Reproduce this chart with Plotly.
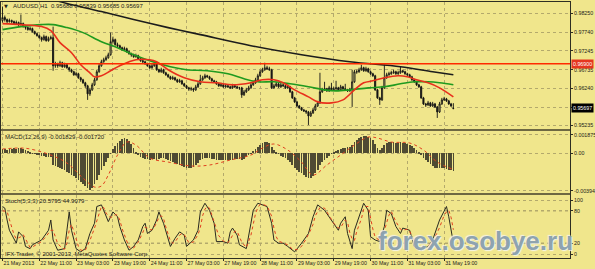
import plotly.graph_objects as go

# ---------------- DATA ----------------
x_labels = ["21 May 2013", "22 May 11:00", "23 May 03:00", "23 May 19:00", "24 May 11:00",
            "27 May 03:00", "27 May 19:00", "28 May 11:00", "29 May 03:00", "29 May 19:00",
            "30 May 11:00", "31 May 03:00", "31 May 19:00"]
x_label_bars = [0, 16, 32, 48, 64, 80, 96, 112, 128, 144, 160, 176, 192]

opens = [0.98060, 0.98141, 0.98087, 0.98033, 0.98060, 0.98033, 0.97979, 0.98006, 0.97952, 0.97979,
 0.97898, 0.97871, 0.97817, 0.97844, 0.97763, 0.97709, 0.97655, 0.97601, 0.97547, 0.97628,
 0.97520, 0.97574, 0.97601, 0.96845, 0.96899, 0.96845, 0.96926, 0.96818, 0.96872, 0.96791,
 0.96737, 0.96683, 0.96602, 0.96629, 0.96521, 0.96467, 0.96386, 0.96305, 0.96089, 0.96197,
 0.96332, 0.96467, 0.96683, 0.96845, 0.96953, 0.97007, 0.97061, 0.97142, 0.97493, 0.97547,
 0.97412, 0.97385, 0.97331, 0.97277, 0.97304, 0.97223, 0.97169, 0.97142, 0.97088, 0.97115,
 0.97034, 0.96980, 0.96953, 0.96899, 0.96845, 0.96791, 0.96845, 0.96899, 0.96737, 0.96683,
 0.96737, 0.96656, 0.96602, 0.96548, 0.96494, 0.96521, 0.96467, 0.96413, 0.96440, 0.96359,
 0.96305, 0.96251, 0.96224, 0.96224, 0.96197, 0.96278, 0.96359, 0.96467, 0.96521, 0.96575,
 0.96548, 0.96494, 0.96440, 0.96413, 0.96359, 0.96305, 0.96332, 0.96278, 0.96305, 0.96278,
 0.96251, 0.96305, 0.96278, 0.96251, 0.96251, 0.96062, 0.96143, 0.96197, 0.96251, 0.96332,
 0.96386, 0.96467, 0.96575, 0.96683, 0.96737, 0.96791, 0.96764, 0.96737, 0.96251, 0.96305,
 0.96359, 0.96278, 0.96332, 0.96305, 0.96251, 0.96278, 0.96143, 0.95981, 0.95873, 0.95765,
 0.95711, 0.95657, 0.95630, 0.95603, 0.95495, 0.95576, 0.95657, 0.95765, 0.95846, 0.96143,
 0.96197, 0.96224, 0.96170, 0.96251, 0.96197, 0.96224, 0.96251, 0.96197, 0.96278, 0.96224,
 0.96197, 0.96170, 0.96197, 0.96413, 0.96683, 0.96683, 0.96737, 0.96791, 0.96710, 0.96764,
 0.96683, 0.96629, 0.96575, 0.96197, 0.95981, 0.95927, 0.96251, 0.96521, 0.96602, 0.96629,
 0.96656, 0.96683, 0.96629, 0.96656, 0.96710, 0.96683, 0.96629, 0.96602, 0.96548, 0.96467,
 0.96413, 0.96332, 0.96278, 0.95981, 0.95819, 0.95792, 0.95846, 0.95765, 0.95819, 0.95738,
 0.95603, 0.95819, 0.95927, 0.95954, 0.95900, 0.95819, 0.95688]

highs = [0.98438, 0.98195, 0.98114, 0.98114, 0.98087, 0.98060, 0.98060, 0.98033, 0.98223, 0.98006,
 0.97925, 0.97898, 0.97898, 0.97871, 0.97790, 0.97736, 0.97682, 0.97628, 0.97682, 0.97655,
 0.97628, 0.97655, 0.97898, 0.96953, 0.96926, 0.96980, 0.96953, 0.96926, 0.96899, 0.96818,
 0.96764, 0.96710, 0.96683, 0.96656, 0.96548, 0.96494, 0.96413, 0.96332, 0.96251, 0.96386,
 0.96521, 0.96737, 0.96899, 0.97007, 0.97061, 0.97115, 0.97196, 0.97736, 0.97628, 0.97574,
 0.97466, 0.97412, 0.97358, 0.97358, 0.97331, 0.97250, 0.97196, 0.97169, 0.97169, 0.97142,
 0.97061, 0.97007, 0.96980, 0.96926, 0.96872, 0.96899, 0.96953, 0.96926, 0.96764, 0.96791,
 0.96764, 0.96683, 0.96629, 0.96575, 0.96575, 0.96548, 0.96494, 0.96494, 0.96467, 0.96386,
 0.96332, 0.96278, 0.96278, 0.96251, 0.96332, 0.96413, 0.96602, 0.96575, 0.96629, 0.96602,
 0.96575, 0.96521, 0.96467, 0.96440, 0.96386, 0.96386, 0.96359, 0.96359, 0.96332, 0.96305,
 0.96359, 0.96332, 0.96305, 0.96278, 0.96278, 0.96197, 0.96251, 0.96305, 0.96386, 0.96440,
 0.96521, 0.96629, 0.96737, 0.96791, 0.96926, 0.96845, 0.96818, 0.96764, 0.96359, 0.96413,
 0.96386, 0.96386, 0.96359, 0.96332, 0.96332, 0.96305, 0.96170, 0.96008, 0.95900, 0.95792,
 0.95738, 0.95684, 0.95657, 0.95630, 0.95630, 0.95711, 0.95819, 0.95900, 0.96656, 0.96251,
 0.96413, 0.96251, 0.96305, 0.96386, 0.96278, 0.96440, 0.96278, 0.96332, 0.96305, 0.96359,
 0.96224, 0.96251, 0.96737, 0.96737, 0.96737, 0.96791, 0.96872, 0.96818, 0.96818, 0.96791,
 0.96710, 0.96656, 0.96602, 0.96224, 0.96008, 0.96305, 0.96872, 0.96656, 0.96683, 0.96710,
 0.96737, 0.96710, 0.96710, 0.96818, 0.96737, 0.96710, 0.96656, 0.96629, 0.96575, 0.96494,
 0.96440, 0.96359, 0.96305, 0.96008, 0.95846, 0.95900, 0.95873, 0.95873, 0.95846, 0.95765,
 0.95873, 0.95981, 0.96008, 0.95981, 0.95927, 0.95846, 0.95839]

lows = [0.98006, 0.98033, 0.97979, 0.98006, 0.97979, 0.97952, 0.97952, 0.97898, 0.97925, 0.97871,
 0.97817, 0.97790, 0.97790, 0.97736, 0.97682, 0.97628, 0.97574, 0.97493, 0.97520, 0.97493,
 0.97493, 0.97547, 0.96710, 0.96791, 0.96791, 0.96818, 0.96791, 0.96791, 0.96764, 0.96683,
 0.96656, 0.96575, 0.96575, 0.96494, 0.96413, 0.96359, 0.96251, 0.95927, 0.96035, 0.96170,
 0.96305, 0.96440, 0.96656, 0.96818, 0.96926, 0.96980, 0.97034, 0.97115, 0.97439, 0.97385,
 0.97331, 0.97304, 0.97250, 0.97250, 0.97196, 0.97142, 0.97088, 0.97061, 0.97061, 0.97007,
 0.96953, 0.96899, 0.96872, 0.96818, 0.96764, 0.96764, 0.96818, 0.96710, 0.96656, 0.96656,
 0.96629, 0.96575, 0.96521, 0.96467, 0.96467, 0.96440, 0.96386, 0.96386, 0.96332, 0.96278,
 0.96224, 0.96170, 0.96170, 0.96143, 0.96170, 0.96251, 0.96332, 0.96440, 0.96494, 0.96521,
 0.96467, 0.96413, 0.96386, 0.96332, 0.96278, 0.96278, 0.96251, 0.96251, 0.96251, 0.96224,
 0.96224, 0.96251, 0.96224, 0.96197, 0.95981, 0.96035, 0.96116, 0.96170, 0.96224, 0.96305,
 0.96359, 0.96440, 0.96548, 0.96656, 0.96710, 0.96737, 0.96710, 0.96224, 0.96224, 0.96278,
 0.96251, 0.96251, 0.96278, 0.96224, 0.96224, 0.96116, 0.95954, 0.95846, 0.95738, 0.95684,
 0.95630, 0.95603, 0.95549, 0.95252, 0.95468, 0.95549, 0.95630, 0.95738, 0.95819, 0.96116,
 0.96170, 0.96143, 0.96143, 0.96170, 0.96170, 0.96197, 0.96170, 0.96170, 0.96197, 0.96170,
 0.96143, 0.96143, 0.95738, 0.96386, 0.96629, 0.96656, 0.96710, 0.96683, 0.96683, 0.96656,
 0.96602, 0.96548, 0.96170, 0.95954, 0.95792, 0.95900, 0.96224, 0.96494, 0.96575, 0.96602,
 0.96629, 0.96602, 0.96602, 0.96629, 0.96656, 0.96602, 0.96575, 0.96521, 0.96440, 0.96386,
 0.96305, 0.96251, 0.95954, 0.95792, 0.95738, 0.95765, 0.95738, 0.95738, 0.95711, 0.95441,
 0.95576, 0.95792, 0.95900, 0.95873, 0.95792, 0.95738, 0.95685]

closes = [0.98141, 0.98087, 0.98033, 0.98060, 0.98033, 0.97979, 0.98006, 0.97952, 0.97979, 0.97898,
 0.97871, 0.97817, 0.97844, 0.97763, 0.97709, 0.97655, 0.97601, 0.97547, 0.97628, 0.97520,
 0.97574, 0.97601, 0.96845, 0.96899, 0.96845, 0.96926, 0.96818, 0.96872, 0.96791, 0.96737,
 0.96683, 0.96602, 0.96629, 0.96521, 0.96467, 0.96386, 0.96305, 0.96089, 0.96197, 0.96332,
 0.96467, 0.96683, 0.96845, 0.96953, 0.97007, 0.97061, 0.97142, 0.97493, 0.97547, 0.97412,
 0.97385, 0.97331, 0.97277, 0.97304, 0.97223, 0.97169, 0.97142, 0.97088, 0.97115, 0.97034,
 0.96980, 0.96953, 0.96899, 0.96845, 0.96791, 0.96845, 0.96899, 0.96737, 0.96683, 0.96737,
 0.96656, 0.96602, 0.96548, 0.96494, 0.96521, 0.96467, 0.96413, 0.96440, 0.96359, 0.96305,
 0.96251, 0.96224, 0.96224, 0.96197, 0.96278, 0.96359, 0.96467, 0.96521, 0.96575, 0.96548,
 0.96494, 0.96440, 0.96413, 0.96359, 0.96305, 0.96332, 0.96278, 0.96305, 0.96278, 0.96251,
 0.96305, 0.96278, 0.96251, 0.96251, 0.96062, 0.96143, 0.96197, 0.96251, 0.96332, 0.96386,
 0.96467, 0.96575, 0.96683, 0.96737, 0.96791, 0.96764, 0.96737, 0.96251, 0.96305, 0.96359,
 0.96278, 0.96332, 0.96305, 0.96251, 0.96278, 0.96143, 0.95981, 0.95873, 0.95765, 0.95711,
 0.95657, 0.95630, 0.95603, 0.95495, 0.95576, 0.95657, 0.95765, 0.95846, 0.96143, 0.96197,
 0.96224, 0.96170, 0.96251, 0.96197, 0.96224, 0.96251, 0.96197, 0.96278, 0.96224, 0.96197,
 0.96170, 0.96197, 0.96413, 0.96683, 0.96683, 0.96737, 0.96791, 0.96710, 0.96764, 0.96683,
 0.96629, 0.96575, 0.96197, 0.95981, 0.95927, 0.96251, 0.96521, 0.96602, 0.96629, 0.96656,
 0.96683, 0.96629, 0.96656, 0.96710, 0.96683, 0.96629, 0.96602, 0.96548, 0.96467, 0.96413,
 0.96332, 0.96278, 0.95981, 0.95819, 0.95792, 0.95846, 0.95765, 0.95819, 0.95738, 0.95603,
 0.95819, 0.95927, 0.95954, 0.95900, 0.95819, 0.95765, 0.95697]

# moving averages (read at sample bars)
ma_red_x = [0, 8, 17, 21, 25, 30, 34, 38, 40, 43, 47, 51, 58, 64, 67, 72, 79, 86, 93, 100, 108, 113,
            118, 122, 127, 133, 137, 143, 148, 153, 157, 161, 166, 172, 176, 180, 185, 190, 196]
ma_red = [0.97979, 0.97952, 0.97898, 0.97790, 0.97466, 0.97196, 0.96872, 0.96656, 0.96548, 0.96575,
          0.96710, 0.96845, 0.97007, 0.97007, 0.96953, 0.96737, 0.96521, 0.96413, 0.96386, 0.96332,
          0.96386, 0.96467, 0.96467, 0.96386, 0.96197, 0.96008, 0.95873, 0.95846, 0.95927, 0.96197,
          0.96386, 0.96440, 0.96521, 0.96575, 0.96548, 0.96467, 0.96386, 0.96251, 0.96008]
ma_green_x = [0, 8, 17, 22, 28, 35, 43, 50, 57, 64, 73, 80, 89, 98, 105, 111, 118, 125, 133, 140,
              145, 151, 159, 166, 173, 179, 185, 190, 196]
ma_green = [0.97817, 0.97898, 0.97952, 0.97952, 0.97871, 0.97736, 0.97493, 0.97331, 0.97142, 0.96980,
            0.96818, 0.96737, 0.96710, 0.96629, 0.96494, 0.96413, 0.96413, 0.96359, 0.96278, 0.96197,
            0.96170, 0.96197, 0.96251, 0.96278, 0.96359, 0.96413, 0.96413, 0.96386, 0.96332]
ma_black_x = [0, 12, 23, 28, 43, 57, 72, 86, 108, 130, 151, 173, 187, 196]
ma_black = [0.99032, 0.98789, 0.98600, 0.98519, 0.98303, 0.98087, 0.97871, 0.97682, 0.97385, 0.97142,
            0.96953, 0.96818, 0.96683, 0.96602]

hline_price = 0.96900
last_price = 0.95697

macd_hist = [0.00042, 0.00042, 0.00031, 0.00042, 0.00042, 0.00052, 0.00042, 0.00052, 0.00052, 0.00042,
 0.00031, 0.00021, 0.00010, -0.00005, -0.00010, -0.00021, -0.00021, -0.00031, -0.00031, -0.00042,
 -0.00042, -0.00042, -0.00125, -0.00135, -0.00146, -0.00156, -0.00166, -0.00177, -0.00198, -0.00208,
 -0.00229, -0.00239, -0.00260, -0.00281, -0.00302, -0.00322, -0.00343, -0.00364, -0.00385, -0.00364,
 -0.00322, -0.00281, -0.00229, -0.00177, -0.00135, -0.00094, -0.00052, -0.00002, 0.00042, 0.00073,
 0.00104, 0.00125, 0.00146, 0.00156, 0.00146, 0.00125, 0.00094, 0.00052, 0.00010, -0.00021,
 -0.00042, -0.00052, -0.00062, -0.00062, -0.00073, -0.00062, -0.00062, -0.00073, -0.00062, -0.00052,
 -0.00052, -0.00062, -0.00073, -0.00083, -0.00094, -0.00104, -0.00114, -0.00125, -0.00135, -0.00146,
 -0.00156, -0.00156, -0.00156, -0.00146, -0.00125, -0.00104, -0.00073, -0.00062, -0.00052, -0.00052,
 -0.00052, -0.00062, -0.00062, -0.00073, -0.00073, -0.00073, -0.00073, -0.00073, -0.00073, -0.00073,
 -0.00073, -0.00062, -0.00062, -0.00062, -0.00073, -0.00062, -0.00042, -0.00021, -0.00002, 0.00021,
 0.00042, 0.00062, 0.00083, 0.00104, 0.00114, 0.00114, 0.00104, 0.00062, 0.00031, 0.00010,
 -0.00010, -0.00031, -0.00042, -0.00052, -0.00073, -0.00094, -0.00125, -0.00156, -0.00177, -0.00198,
 -0.00208, -0.00229, -0.00250, -0.00260, -0.00260, -0.00239, -0.00208, -0.00177, -0.00125, -0.00094,
 -0.00073, -0.00052, -0.00031, -0.00010, 0.00002, 0.00021, 0.00031, 0.00042, 0.00052, 0.00052,
 0.00062, 0.00062, 0.00083, 0.00114, 0.00135, 0.00156, 0.00166, 0.00177, 0.00177, 0.00166,
 0.00156, 0.00135, 0.00094, 0.00052, 0.00031, 0.00052, 0.00083, 0.00104, 0.00114, 0.00114,
 0.00114, 0.00104, 0.00104, 0.00114, 0.00104, 0.00104, 0.00094, 0.00083, 0.00073, 0.00052,
 0.00031, 0.00010, -0.00021, -0.00052, -0.00073, -0.00094, -0.00114, -0.00135, -0.00156, -0.00156,
 -0.00156, -0.00156, -0.00156, -0.00166, -0.00177, -0.00177, -0.00183]

macd_sig_x = [0, 8, 12, 21, 28, 35, 40, 43, 46, 50, 54, 58, 64, 72, 82, 90, 99, 108, 113, 118, 124,
              130, 135, 141, 147, 153, 159, 163, 169, 177, 183, 189, 196]
macd_sig = [0.00042, 0.00052, 0.00042, -0.00021, -0.00104, -0.00260, -0.00354, -0.00343, -0.00229,
            -0.00021, 0.00114, 0.00083, -0.00052, -0.00094, -0.00135, -0.00125, -0.00073, -0.00021,
            0.00052, 0.00094, 0.00031, -0.00094, -0.00229, -0.00125, -0.00021, 0.00083, 0.00166,
            0.00156, 0.00114, 0.00104, 0.00031, -0.00094, -0.00172]

stoch_k_x = [0,1,2,3,6,7,9,10,12,13,17,20,21,22,24,27,28,29,30,32,34,36,38,40,41,43,44,46,47,48,
             50,51,53,55,57,59,61,62,63,65,67,68,70,72,73,75,77,79,80,83,85,86,88,90,92,93,96,98,99,100,
             102,103,106,108,109,111,113,115,117,118,120,122,124,127,130,133,135,137,140,143,
             146,147,149,150,152,153,156,157,159,160,162,164,166,167,169,171,173,174,177,179,
             182,185,187,190,193,194,196]
stoch_k = [88,85,63,44,20,41,32,14,10,17,26,44,63,26,7,10,44,78,44,10,4,10,38,57,88,91,81,60,69,78,
           69,51,26,7,14,26,51,57,38,44,63,78,57,26,14,29,41,35,14,26,44,78,94,81,57,23,23,20,41,48,
           35,17,10,57,81,94,91,88,57,26,20,20,14,4,20,38,69,91,81,63,
           44,57,69,38,10,44,81,94,81,32,26,23,51,81,75,51,38,48,44,14,
           7,14,26,63,88,69,20.5795]
stoch_d_x = [0,2,3,4,5,6,7,8,9,10,11,12,13,15,17,19,20,21,22,23,24,26,27,28,29,30,31,32,33,34,
             36,38,40,41,42,43,44,45,46,47,48,49,50,51,52,53,54,55,56,57,58,59,61,62,63,64,65,66,67,68,
             69,70,71,72,73,74,75,77,78,79,80,81,83,85,86,87,88,89,90,91,92,93,94,96,98,99,100,101,102,103,
             104,106,107,108,109,110,111,112,113,115,116,117,118,119,120,122,124,126,128,130,
             132,134,135,136,137,138,140,142,144,146,147,148,149,150,151,152,153,154,156,157,
             158,159,160,161,162,164,165,166,167,168,169,170,171,173,174,176,177,178,179,181,
             182,184,186,187,189,190,192,193,194,195,196]
stoch_d = [80,79,64,48,36,28,30,32,36,27,19,12,13,18,23,33,38,44,44,33,19,11,9,20,44,55,43,28,14,7,
           7,25,48,63,78,88,86,76,70,68,69,73,72,63,47,35,24,13,10,11,17,22,40,50,48,45,45,50,58,68,
           71,66,50,38,24,20,22,35,38,36,27,21,22,36,49,71,83,88,85,73,57,46,34,24,21,27,36,42,42,32,
           22,12,24,35,55,75,86,92,92,89,80,70,48,32,24,20,17,9,8,14,
           28,45,55,71,80,86,85,71,57,48,49,56,63,59,39,28,25,42,65,83,
           88,88,66,46,31,25,33,43,58,72,79,70,60,46,44,46,42,33,22,12,
           9,11,18,23,40,49,72,78,81,68,44.9079]

price_ticks = [0.98250, 0.97740, 0.97245, 0.96735, 0.96240, 0.95730, 0.95235]
price_tick_text = ["0.98250", "0.97740", "0.97245", "0.96735", "0.96240", "", "0.95235"]
macd_ticks = [0.001875, 0.0, -0.003942]
macd_tick_text = ["0.001875", "0.00", "-0.003942"]
stoch_ticks = [100, 80, 20, 0]
stoch_levels = [80, 20]

# ---------------- STYLE / LAYOUT ----------------
W, H = 595, 269
BG = "#F0E68C"
FRAME = "#2e2e22"
GRID = "#B3A96C"
SEP = "#6E6842"
TXT = "#222218"
FONT = "Liberation Sans"
TICKFONT = dict(family=FONT, size=5.3, color=TXT)


def fx(px):
    return px / W


def fy(px):
    return 1 - px / H


bars = list(range(len(closes)))
XL, XR = 1, 570

fig = go.Figure()
fig.add_trace(go.Candlestick(
    x=bars, open=opens, high=highs, low=lows, close=closes,
    increasing=dict(line=dict(color="#141414", width=0.9), fillcolor=BG),
    decreasing=dict(line=dict(color="#141414", width=0.9), fillcolor="#141414"),
    whiskerwidth=0, hoverinfo="skip", xaxis="x", yaxis="y"))
fig.add_trace(go.Scatter(x=ma_black_x, y=ma_black, mode="lines",
                         line=dict(color="#1c1c1c", width=1.6, shape="spline"), xaxis="x", yaxis="y"))
fig.add_trace(go.Scatter(x=ma_green_x, y=ma_green, mode="lines",
                         line=dict(color="#1F9A1F", width=1.6, shape="spline"), xaxis="x", yaxis="y"))
fig.add_trace(go.Scatter(x=ma_red_x, y=ma_red, mode="lines",
                         line=dict(color="#E8301C", width=1.6, shape="spline"), xaxis="x", yaxis="y"))

fig.add_trace(go.Bar(x=bars, y=macd_hist, width=0.32,
                     marker=dict(color="#4F4B33", line=dict(width=0)), xaxis="x2", yaxis="y2"))
fig.add_trace(go.Scatter(x=macd_sig_x, y=macd_sig, mode="lines",
                         line=dict(color="#E0401E", width=1, dash="dot", shape="spline"),
                         xaxis="x2", yaxis="y2"))

fig.add_trace(go.Scatter(x=stoch_k_x, y=stoch_k, mode="lines",
                         line=dict(color="#2a2a20", width=1), xaxis="x3", yaxis="y3"))
fig.add_trace(go.Scatter(x=stoch_d_x, y=stoch_d, mode="lines",
                         line=dict(color="#E0401E", width=1, dash="dot"), xaxis="x3", yaxis="y3"))

xcommon = dict(range=[-0.65, 246.7], domain=[fx(XL), fx(XR)], tickvals=x_label_bars,
               showgrid=True, gridcolor=GRID, griddash="dot", gridwidth=1, zeroline=False,
               showline=True, mirror=True, linecolor=FRAME, linewidth=1, fixedrange=True,
               automargin=False, tickangle=0)
ycommon = dict(side="right", showgrid=True, gridcolor=GRID, griddash="dot", gridwidth=1,
               zeroline=False, showline=True, mirror=True, linecolor=FRAME, linewidth=1,
               ticks="outside", ticklen=2, tickcolor=FRAME, tickfont=TICKFONT,
               fixedrange=True, automargin=False)

fig.update_layout(
    width=W, height=H, margin=dict(l=0, r=0, t=0, b=0, autoexpand=False),
    paper_bgcolor=BG, plot_bgcolor=BG, showlegend=False, bargap=0,
    xaxis=dict(**xcommon, anchor="y", showticklabels=False, ticks="", rangeslider=dict(visible=False)),
    xaxis2=dict(**xcommon, anchor="y2", matches="x", showticklabels=False, ticks=""),
    xaxis3=dict(**xcommon, anchor="y3", matches="x", showticklabels=True, ticktext=x_labels,
                ticks="outside", ticklen=2, tickcolor=FRAME, ticklabelposition="outside right",
                tickfont=TICKFONT),
    yaxis=dict(**ycommon, anchor="x", domain=[fy(129), fy(1.5)], range=[0.95144, 0.98573],
               tickvals=price_ticks, ticktext=price_tick_text),
    yaxis2=dict(**ycommon, anchor="x2", domain=[fy(193), fy(131)], range=[-0.00416, 0.00229],
                tickvals=macd_ticks, ticktext=macd_tick_text),
    yaxis3=dict(**ycommon, anchor="x3", domain=[fy(258), fy(195)], range=[-7.4, 109.3],
                tickvals=stoch_ticks),
)

# panel separators
for a, b in [(129, 131), (193, 195)]:
    fig.add_shape(type="rect", xref="paper", yref="paper", x0=fx(XL), x1=fx(XR),
                  y0=fy(b), y1=fy(a), fillcolor=SEP, line=dict(width=0))

# horizontal red line
fig.add_shape(type="line", xref="x domain", yref="y", x0=0, x1=1, y0=hline_price, y1=hline_price,
              line=dict(color="#FF2A00", width=1.5))
# stochastic levels
for lv in stoch_levels:
    fig.add_shape(type="line", xref="x3 domain", yref="y3", x0=0, x1=1, y0=lv, y1=lv,
                  line=dict(color="#8C8458", width=1, dash="dot"), layer="below")

small = dict(family=FONT, size=6, color=TXT)
fig.add_annotation(xref="paper", yref="paper", x=fx(2), y=fy(5.5), xanchor="left", yanchor="middle",
                   text="▼", showarrow=False, font=dict(family="DejaVu Sans", size=5, color=TXT))
fig.add_annotation(xref="paper", yref="paper", x=fx(11), y=fy(6), xanchor="left", yanchor="middle",
                   text="AUDUSD,H1  0.95688 0.95839 0.95685 0.95697", showarrow=False, font=small)
fig.add_annotation(xref="paper", yref="paper", x=fx(3), y=fy(136.5), xanchor="left", yanchor="middle",
                   text="MACD(12,26,9) -0.001829 -0.001720", showarrow=False, font=small)
fig.add_annotation(xref="paper", yref="paper", x=fx(3), y=fy(201), xanchor="left", yanchor="middle",
                   text="Stoch(5,3,3) 20.5795 44.9079", showarrow=False, font=small)
fig.add_annotation(xref="paper", yref="paper", x=fx(3), y=fy(253.5), xanchor="left", yanchor="middle",
                   text="IFX Trader, © 2001-2013, MetaQuotes Software Corp.", showarrow=False, font=small)

# price labels on the scale
fig.add_annotation(xref="paper", yref="y", x=fx(571), y=hline_price, xanchor="left", yanchor="middle",
                   text="0.96900", showarrow=False, bgcolor="#E5361F", borderpad=1,
                   font=dict(family=FONT, size=5.3, color="#ffffff"))
fig.add_annotation(xref="paper", yref="y", x=fx(571), y=last_price, xanchor="left", yanchor="middle",
                   text="0.95697", showarrow=False, bgcolor="#000000", borderpad=1,
                   font=dict(family=FONT, size=5.3, color="#ffffff"))

# watermark
fig.add_annotation(xref="paper", yref="paper", x=fx(475), y=fy(241), xanchor="center", yanchor="middle",
                   text="forex.osobye.ru", showarrow=False,
                   font=dict(family=FONT, size=26, color="rgba(128,152,168,0.9)", weight="bold",
                             shadow="1px 1px 1px #f4f4f0, -1px -1px 1px #f4f4f0"))

fig.write_html("out.html")
